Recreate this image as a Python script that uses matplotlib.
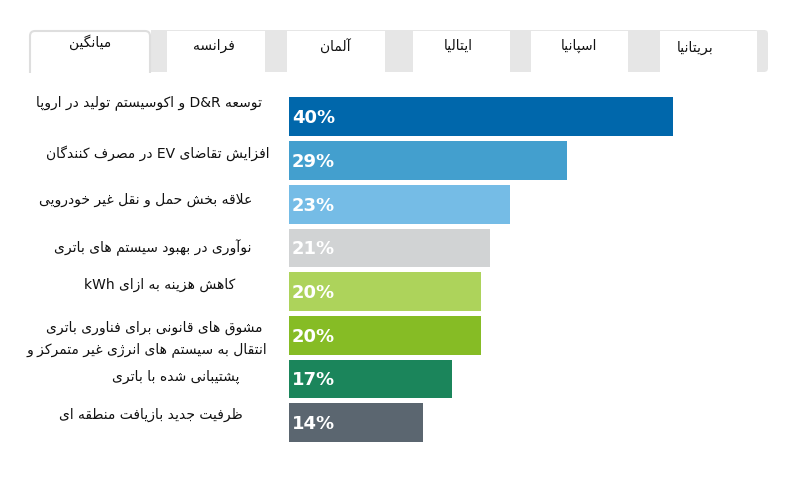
import matplotlib
matplotlib.use('Agg')
import matplotlib.pyplot as plt
from matplotlib.patches import Rectangle, FancyBboxPatch


# Chart data
tab_names = ['میانگین', 'فرانسه', 'آلمان', 'ایتالیا', 'اسپانیا', 'بریتانیا']
categories = [
    'توسعه D&R و اکوسیستم تولید در اروپا',
    'افزایش تقاضای EV در مصرف کنندگان',
    'علاقه بخش حمل و نقل غیر خودرویی',
    'نوآوری در بهبود سیستم های باتری',
    'کاهش هزینه به ازای kWh',
    'مشوق های قانونی برای فناوری باتری',
    'انتقال به سیستم های انرژی غیر متمرکز و\nپشتیبانی شده با باتری',
    'ظرفیت جدید بازیافت منطقه ای',
]
values = [40, 29, 23, 21, 20, 20, 17, 14]
bar_colors = ['#0067ab', '#439fce', '#75bce6', '#d1d3d4',
              '#add35b', '#86bc25', '#1b855b', '#5b6670']

W, H = 804, 482

# Arabic/Persian contextual forms: (isolated, final, initial, medial)
FORMS = {
    'ا': (0xFE8D, 0xFE8E), 'آ': (0xFE81, 0xFE82),
    'ب': (0xFE8F, 0xFE90, 0xFE91, 0xFE92), 'پ': (0xFB56, 0xFB57, 0xFB58, 0xFB59),
    'ت': (0xFE95, 0xFE96, 0xFE97, 0xFE98), 'ث': (0xFE99, 0xFE9A, 0xFE9B, 0xFE9C),
    'ج': (0xFE9D, 0xFE9E, 0xFE9F, 0xFEA0), 'چ': (0xFB7A, 0xFB7B, 0xFB7C, 0xFB7D),
    'ح': (0xFEA1, 0xFEA2, 0xFEA3, 0xFEA4), 'خ': (0xFEA5, 0xFEA6, 0xFEA7, 0xFEA8),
    'د': (0xFEA9, 0xFEAA), 'ذ': (0xFEAB, 0xFEAC), 'ر': (0xFEAD, 0xFEAE),
    'ز': (0xFEAF, 0xFEB0), 'ژ': (0xFB8A, 0xFB8B),
    'س': (0xFEB1, 0xFEB2, 0xFEB3, 0xFEB4), 'ش': (0xFEB5, 0xFEB6, 0xFEB7, 0xFEB8),
    'ص': (0xFEB9, 0xFEBA, 0xFEBB, 0xFEBC), 'ض': (0xFEBD, 0xFEBE, 0xFEBF, 0xFEC0),
    'ط': (0xFEC1, 0xFEC2, 0xFEC3, 0xFEC4), 'ظ': (0xFEC5, 0xFEC6, 0xFEC7, 0xFEC8),
    'ع': (0xFEC9, 0xFECA, 0xFECB, 0xFECC), 'غ': (0xFECD, 0xFECE, 0xFECF, 0xFED0),
    'ف': (0xFED1, 0xFED2, 0xFED3, 0xFED4), 'ق': (0xFED5, 0xFED6, 0xFED7, 0xFED8),
    'ک': (0xFB8E, 0xFB8F, 0xFB90, 0xFB91), 'گ': (0xFB92, 0xFB93, 0xFB94, 0xFB95),
    'ل': (0xFEDD, 0xFEDE, 0xFEDF, 0xFEE0), 'م': (0xFEE1, 0xFEE2, 0xFEE3, 0xFEE4),
    'ن': (0xFEE5, 0xFEE6, 0xFEE7, 0xFEE8), 'و': (0xFEED, 0xFEEE),
    'ه': (0xFEE9, 0xFEEA, 0xFEEB, 0xFEEC), 'ی': (0xFBFC, 0xFBFD, 0xFBFE, 0xFBFF),
}
LAM_ALEF = {'ا': (0xFEFB, 0xFEFC), 'آ': (0xFEF5, 0xFEF6)}


def shape_word(word):
    out = []
    i = 0
    prev_joins = False
    while i < len(word):
        c = word[i]
        nxt = word[i + 1] if i + 1 < len(word) else ''
        if c == 'ل' and nxt in LAM_ALEF:
            forms = LAM_ALEF[nxt]
            out.append(chr(forms[1] if prev_joins else forms[0]))
            prev_joins = False
            i += 2
            continue
        if c not in FORMS:
            out.append(c)
            prev_joins = False
            i += 1
            continue
        forms = FORMS[c]
        next_joins = len(forms) == 4 and nxt in FORMS
        if prev_joins and next_joins:
            idx = 3
        elif prev_joins:
            idx = 1
        elif next_joins:
            idx = 2
        else:
            idx = 0
        out.append(chr(forms[idx]))
        prev_joins = next_joins
        i += 1
    return ''.join(reversed(out))


def rtl(text):
    lines = []
    for line in text.split('\n'):
        words = []
        for w in line.split(' '):
            if any(ch.isascii() and ch.isalnum() for ch in w):
                words.append(w)
            else:
                words.append(shape_word(w))
        lines.append(' '.join(reversed(words)))
    return '\n'.join(lines)


plt.rcParams['font.family'] = ['DejaVu Sans']

fig = plt.figure(figsize=(W / 100, H / 100), dpi=100)
fig.patch.set_facecolor('white')

# background layer in pixel coordinates for the tab strip
bg = fig.add_axes([0, 0, 1, 1])
bg.set_xlim(0, W)
bg.set_ylim(H, 0)
bg.axis('off')

bg.add_patch(FancyBboxPatch((30, 30), 738, 42, boxstyle='round,pad=0,rounding_size=4',
                            facecolor='#e6e6e6', edgecolor='none'))
tab_spans = [(30, 150), (167, 265), (287, 385), (413, 510), (531, 628), (660, 757)]
tab_text_pos = [(90, 42), (214, 46), (335, 47), (458, 46), (579, 46), (695, 48)]
for k, (x0, x1) in enumerate(tab_spans):
    if k == 0:
        bg.add_patch(Rectangle((x0 - 1, 30), x1 - x0 + 2, 44, facecolor='white', edgecolor='none'))
        bg.add_patch(FancyBboxPatch((x0, 31), x1 - x0, 60, boxstyle='round,pad=0,rounding_size=5',
                                    facecolor='white', edgecolor='#dedede', linewidth=1.5))
        bg.add_patch(Rectangle((x0 - 2, 73), x1 - x0 + 4, 20, facecolor='white', edgecolor='none'))
    else:
        bg.add_patch(Rectangle((x0, 31), x1 - x0, 41, facecolor='white', edgecolor='none'))
    tx, ty = tab_text_pos[k]
    bg.text(tx, ty, rtl(tab_names[k]), ha='center', va='center', fontsize=10, color='#111111')

# bar chart
ax = fig.add_axes([289 / W, 1 - 444.6 / H, 479.5 / W, 349.6 / H])
y = list(range(len(values)))
ax.barh(y, values, height=0.89, color=bar_colors)
ax.set_xlim(0, 50)
ax.set_ylim(len(values) - 0.5, -0.5)
ax.axis('off')

for i, v in enumerate(values):
    ax.text(0.3, i + 0.03, f'{v}%', ha='left', va='center', color='white',
            fontsize=13, fontweight='bold')

# category labels (right edge, vertical centre in pixels)
label_pos = [(262, 103), (270, 153), (252, 200), (252, 248),
             (235, 285), (263, 328), (267, 350), (243, 415)]
for i, cat in enumerate(categories):
    x, yy = label_pos[i]
    parts = cat.split('\n')
    bg.text(x, yy, rtl(parts[0]), ha='right', va='center', fontsize=10, color='#111111')
    if len(parts) > 1:
        bg.text(240, 377, rtl(parts[1]), ha='right', va='center', fontsize=10, color='#111111')

fig.savefig('out.png', dpi=100)
